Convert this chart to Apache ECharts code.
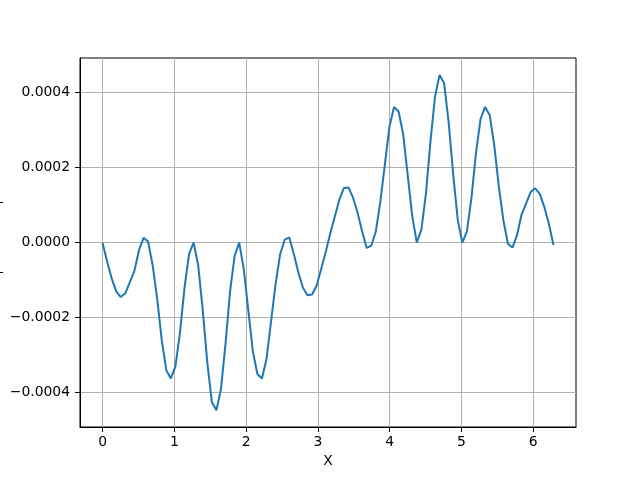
<!DOCTYPE html>
<html>
<head>
<meta charset="utf-8">
<script src="https://cdn.jsdelivr.net/npm/echarts@6/dist/echarts.min.js"></script>
<style>
    html, body { margin: 0; padding: 0; background: #fff; }
    #chart { width: 640px; height: 480px; }
</style>
</head>
<body>
<div id="chart"></div>
<script>
    // 100 samples on [0, 2*pi]
    const sampleCount = 100;
    const xEnd = 2 * Math.PI;
    const yValues = [
        0, -0.00005, -0.000095, -0.00013, -0.000145, -0.000135, -0.000105, -0.000075, -0.00002, 0.000013,
        0.000003, -0.00006, -0.00015, -0.00026, -0.00034, -0.000362, -0.00033, -0.00024, -0.00012, -0.00003,
        0, -0.00006, -0.00018, -0.00032, -0.000425, -0.000447, -0.00039, -0.00027, -0.00013, -0.000035,
        0, -0.00007, -0.00018, -0.00029, -0.00035, -0.000362, -0.00031, -0.00021, -0.00011, -0.00003,
        0.000008, 0.000014, -0.00003, -0.00008, -0.00012, -0.00014, -0.000138, -0.000115, -0.00007, -0.000025,
        0.000025, 0.00007, 0.000115, 0.000146, 0.000147, 0.00012, 0.00008, 0.00003, -0.000014, -0.000008,
        0.00003, 0.00011, 0.00021, 0.00031, 0.000362, 0.00035, 0.00029, 0.00018, 0.00007, 0,
        0.000035, 0.00013, 0.00027, 0.00039, 0.000447, 0.000425, 0.00032, 0.00018, 0.00006, 0,
        0.00003, 0.00012, 0.00024, 0.00033, 0.000362, 0.00034, 0.00026, 0.00015, 0.00006, -0.000003,
        -0.000013, 0.00002, 0.000075, 0.000105, 0.000135, 0.000145, 0.00013, 0.000095, 0.00005, -0.000006
    ];
    const xTicks = [0, 1, 2, 3, 4, 5, 6];
    const yTicks = [-0.0004, -0.0002, 0, 0.0002, 0.0004];

    const points = yValues.map((v, i) => [i * xEnd / (sampleCount - 1), v]);

    const font = 'DejaVu Sans';
    const fmtY = v => (v < 0 ? '\u2212' : '') + Math.abs(v).toFixed(4);

    let chart = echarts.init(document.getElementById('chart'), null, {renderer: 'canvas'});
    chart.setOption({
        animation: false,
        backgroundColor: '#fff',
        grid: {
            left: 80,
            right: 64,
            top: 58,
            bottom: 53,
            show: true,
            borderColor: '#000',
            borderWidth: 1,
            backgroundColor: 'transparent'
        },
        xAxis: {
            type: 'value',
            min: -0.31416,
            max: 6.59734,
            name: 'X',
            nameLocation: 'middle',
            nameGap: 26,
            nameTextStyle: {color: '#000', fontFamily: font, fontSize: 13.9},
            axisLine: {show: true, onZero: false, lineStyle: {color: '#000', width: 1}},
            axisTick: {show: true, length: 5, customValues: xTicks, lineStyle: {color: '#000', width: 1}},
            axisLabel: {
                customValues: xTicks,
                margin: 8,
                color: '#000',
                fontFamily: font,
                fontSize: 13.9
            },
            splitLine: {show: true, lineStyle: {color: '#b0b0b0', width: 1}}
        },
        yAxis: {
            type: 'value',
            min: -0.0004915,
            max: 0.0004925,
            axisLine: {show: true, onZero: false, lineStyle: {color: '#000', width: 1}},
            axisTick: {show: true, length: 5, customValues: yTicks, lineStyle: {color: '#000', width: 1}},
            axisLabel: {
                customValues: yTicks,
                margin: 10,
                color: '#000',
                fontFamily: font,
                fontSize: 13.9,
                formatter: fmtY
            },
            splitLine: {show: true, lineStyle: {color: '#b0b0b0', width: 1}}
        },
        graphic: [
            // clipped remains of the y label at the left edge
            {type: 'rect', left: 0, top: 202, shape: {width: 3, height: 1}, style: {fill: '#000'}},
            {type: 'rect', left: 0, top: 272, shape: {width: 3, height: 1}, style: {fill: '#000'}}
        ],
        series: [{
            type: 'line',
            data: points,
            showSymbol: false,
            symbol: 'none',
            smooth: false,
            lineStyle: {color: '#1f77b4', width: 2},
            z: 3
        }]
    });
</script>
</body>
</html>
